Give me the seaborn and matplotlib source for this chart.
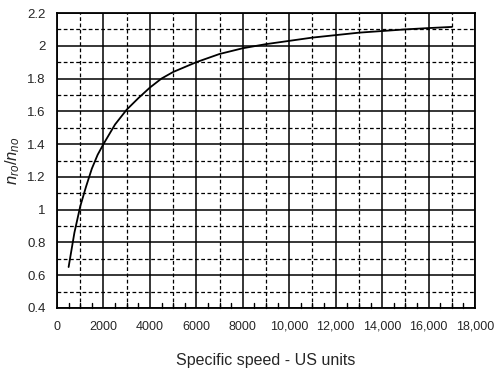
import numpy as np
import pandas as pd
import matplotlib
matplotlib.use('Agg')
import matplotlib.pyplot as plt
import seaborn as sns
from matplotlib.ticker import MultipleLocator, FuncFormatter

## values
speed = [500, 750, 1000, 1250, 1500, 1750, 2000, 2500, 3000, 3500, 4000, 4500,
         5000, 6000, 7000, 8000, 9000, 10000, 11000, 12000, 13000, 14000,
         15000, 16000, 17000]
ratio = [0.65, 0.86, 1.02, 1.14, 1.25, 1.335, 1.40, 1.52, 1.61, 1.68, 1.745, 1.80,
         1.84, 1.90, 1.95, 1.985, 2.01, 2.03, 2.05, 2.065, 2.08, 2.09,
         2.10, 2.108, 2.115]

xlabel = 'Specific speed - US units'
ylabel = r'$n_{ro}/n_{no}$'

sns.set_style('white')
plt.rcParams['font.family'] = ['Liberation Sans', 'DejaVu Sans']
plt.rcParams['mathtext.fontset'] = 'custom'
plt.rcParams['mathtext.it'] = 'Liberation Sans:italic'
plt.rcParams['mathtext.rm'] = 'Liberation Sans'

df = pd.DataFrame({'speed': speed, 'ratio': ratio})

fig = plt.figure(figsize=(5, 3.72), dpi=100)
ax = fig.add_axes([57/500, 1 - 308/372, (475 - 57)/500, (308 - 13)/372])

sns.lineplot(data=df, x='speed', y='ratio', color='black', linewidth=1.3, ax=ax, zorder=5)

ax.set_xlim(0, 18000)
ax.set_ylim(0.4, 2.2)

# major solid grid, minor dashed grid
ax.xaxis.set_major_locator(MultipleLocator(2000))
ax.xaxis.set_minor_locator(MultipleLocator(1000))
ax.yaxis.set_major_locator(MultipleLocator(0.2))
ax.yaxis.set_minor_locator(MultipleLocator(0.1))
ax.grid(which='major', color='black', linestyle='-', linewidth=1.1)
ax.grid(which='minor', color='black', linestyle=(0, (3, 2)), linewidth=0.9)

def xfmt(v, pos):
    if v >= 10000:
        return '{:,.0f}'.format(v)
    return '{:.0f}'.format(v)

def yfmt(v, pos):
    return '{:g}'.format(round(v, 1))

ax.xaxis.set_major_formatter(FuncFormatter(xfmt))
ax.yaxis.set_major_formatter(FuncFormatter(yfmt))

ax.tick_params(axis='x', which='major', length=0, pad=9, labelsize=9)
ax.tick_params(axis='y', which='both', length=0, pad=8, labelsize=9.5)
ax.tick_params(axis='x', which='minor', length=0)

# small inward ticks every 500 along the bottom
for t in np.arange(500, 18000, 500):
    if t % 2000 != 0:
        ax.plot([t, t], [0.4, 0.43], color='black', linewidth=1.0, zorder=6, clip_on=False)

for s in ax.spines.values():
    s.set_color('black')
    s.set_linewidth(1.3)

ax.set_xlabel(xlabel, fontsize=11.5, labelpad=15)
ax.set_ylabel(ylabel, fontsize=12)
ax.yaxis.set_label_coords(-0.084, 0.5)

plt.savefig('out.png', dpi=100)
